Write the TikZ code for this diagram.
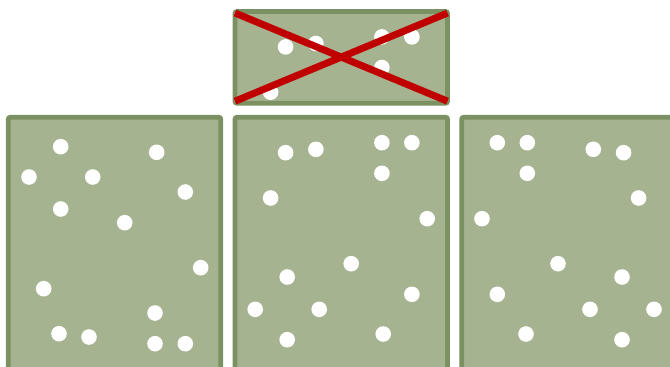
\documentclass[tikz,border=0pt]{standalone}
\usepackage{tikz}
\usetikzlibrary{positioning}
\definecolor{panelfill}{RGB}{166,179,144}
\definecolor{paneledge}{RGB}{123,145,97}
\definecolor{crossred}{RGB}{192,0,0}
\newcommand{\leftdots}{52.4/29.4,148.4/35,20.7/59.7,84.4/59.7,177/74.7,52.4/91.7,
  116.4/105.4,192.4/150.4,35.4/171.4,146.7/195.7,50.7/216.4,80.7/219.7,146.7/226.4,177/226.4}
\newcommand{\middots}{50.6/35.4,80.9/32,146.9/25.4,176.9/25.4,146.9/56,35.6/80.7,
  192.2/101.4,116.2/146.4,52.2/159.7,176.9/177,20.2/192,84.2/192,52.2/222.4,148.2/216.7}
\begin{document}
\begin{tikzpicture}[x=1pt,y=-1pt,
  panel/.style={rectangle,rounded corners=2pt,draw=paneledge,fill=panelfill,
                line width=4.8pt,inner sep=0pt,outer sep=0pt,anchor=north west,
                minimum width=212.5pt,minimum height=270pt},
  dot/.style={fill=white},
  cross/.style={draw=crossred,line width=7pt}]
\clip (0,0) rectangle (670,367);
%% ── Bottom row — three panels, 226.7 apart ──────────────────────────────
\node[panel](leftbox) at (8.3,117.3) {};
\node[panel,right=14.2pt of leftbox](midbox) {};
\node[panel,right=14.2pt of midbox](rightbox) {};
%% ── Top panel — upper part of the middle one ────────────────────────────
\node[panel,minimum height=91.7pt](crossedbox) at (235,11.5) {};
%% ── Dots ────────────────────────────────────────────────────────────────
\begin{scope}[shift={(leftbox.north west)}]
  \foreach \x/\y in \leftdots
    \fill[dot] (\x,\y) circle[radius=7.8pt];
\end{scope}
\begin{scope}[shift={(midbox.north west)}]
  \foreach \x/\y in \middots
    \fill[dot] (\x,\y) circle[radius=7.8pt];
\end{scope}
% right panel mirrors the middle one
\begin{scope}[shift={(rightbox.north east)},xscale=-1]
  \foreach \x/\y in \middots
    \fill[dot] (\x,\y) circle[radius=7.8pt];
\end{scope}
\begin{scope}
  \clip ([xshift=2.4pt,yshift=-2.4pt]crossedbox.north west)
    rectangle ([xshift=-2.4pt,yshift=2.4pt]crossedbox.south east);
  \begin{scope}[shift={(crossedbox.north west)}]
    \foreach \x/\y in \middots
      \fill[dot] (\x,\y) circle[radius=7.8pt];
  \end{scope}
\end{scope}
%% ── Red cross over the top panel ────────────────────────────────────────
\draw[cross] ([yshift=-1.5pt]crossedbox.north west) -- ([yshift=2pt]crossedbox.south east);
\draw[cross] ([yshift=2pt]crossedbox.south west) -- ([yshift=-1.5pt]crossedbox.north east);
\end{tikzpicture}
\end{document}
